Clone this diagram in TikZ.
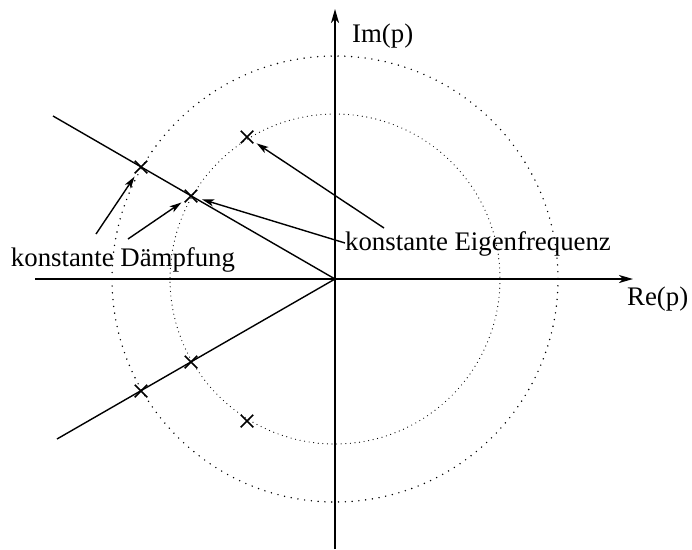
\documentclass[tikz,border=0pt]{standalone}
\usepackage{fontspec}
\setmainfont{Liberation Serif}
\usetikzlibrary{arrows.meta,shapes.misc}
\begin{document}
\begin{tikzpicture}[x=1pt,y=-1pt,
  axis/.style={line width=1.8pt,-{Stealth[length=14pt,width=8pt,inset=4pt]}},
  ray/.style={line width=1.4pt},
  pole/.style={cross out,draw,line width=1.5pt,minimum size=11pt,inner sep=0pt},
  lbl/.style={font=\fontsize{26.8}{30}\selectfont,inner sep=0pt},
  pointer/.style={line width=1.4pt,-{Stealth[length=12pt,width=7pt,inset=3pt]},shorten >=11.5pt},
  outerc/.style={line width=1.6pt,line cap=round,dash pattern=on 0pt off 6.8pt},
  innerc/.style={line width=1.2pt,line cap=round,dash pattern=on 0pt off 4.6pt}]
\useasboundingbox (0,0) rectangle (692,549);
\coordinate (O) at (335,279);
\coordinate (xl) at (35,279);
\coordinate (xr) at (633,279);
\coordinate (yb) at (335,549);
\coordinate (yt) at (335,9);
\draw[outerc] (O) circle[radius=223];
\draw[innerc] (O) circle[radius=165];
\draw[axis] (xl) -- (xr);
\draw[axis] (yb) -- (yt);
\coordinate (U) at (53,116);
\coordinate (L) at (57,439);
\draw[ray] (O) -- (U);
\draw[ray] (O) -- (L);
\node[pole] (p1) at (141,167) {};
\node[pole] (p2) at (191,196) {};
\node[pole] (p3) at (247,137) {};
\node[pole] (p4) at (191,362) {};
\node[pole] (p5) at (141,391) {};
\node[pole] (p6) at (247,421) {};
\node[lbl,anchor=base west] (im) at (352,42) {Im(p)};
\node[lbl,anchor=base west] (re) at (627,305) {Re(p)};
\node[lbl,anchor=base] (kd) at (123,266) {konstante Dämpfung};
\node[lbl,anchor=base] (ke) at (478,250) {konstante Eigenfrequenz};
\coordinate (a1) at (96,234);
\coordinate (a2) at (128,239);
\coordinate (a3) at (345,243);
\coordinate (a4) at (384,228);
\draw[pointer] (a1) -- (p1.center);
\draw[pointer] (a2) -- (p2.center);
\draw[pointer] (a3) -- (p2.center);
\draw[pointer] (a4) -- (p3.center);
\end{tikzpicture}
\end{document}
